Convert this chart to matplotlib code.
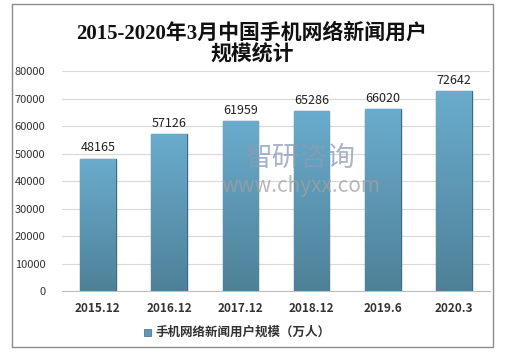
import numpy as np
import matplotlib
matplotlib.use("Agg")
from matplotlib import pyplot as plt
from matplotlib.patches import Rectangle

plt.rcParams['font.family'] = ['Noto Sans CJK SC', 'DejaVu Sans']

categories = ["2015.12", "2016.12", "2017.12", "2018.12", "2019.6", "2020.3"]
values = [48165, 57126, 61959, 65286, 66020, 72642]
title = "2015-2020年3月中国手机网络新闻用户\n规模统计"
legend_label = "手机网络新闻用户规模（万人）"

fig = plt.figure(figsize=(5.14, 3.55), dpi=100)
fig.patches.append(Rectangle((12 / 514, 8 / 355), 481 / 514, 343 / 355,
                             transform=fig.transFigure, fill=False,
                             edgecolor="#8c8c8c", linewidth=1.0))
ax = fig.add_axes([0.121, 0.180, 0.832, 0.620])

x = np.arange(len(categories))
width = 0.5
bars = ax.bar(x, values, width, color="#5a9ab8", edgecolor="#3e6b80",
              linewidth=1.0, zorder=3)

# vertical gradient inside each bar
grad = np.linspace(0, 1, 256).reshape(-1, 1)
cmap = matplotlib.colors.LinearSegmentedColormap.from_list(
    "bar", ["#4e8198", "#6aaccd"])
for b in bars:
    x0, y0 = b.get_x(), b.get_y()
    im = ax.imshow(grad, extent=[x0, x0 + b.get_width(), y0, y0 + b.get_height()],
                   origin="lower", cmap=cmap, aspect="auto", zorder=3.5)
    im.set_clip_path(b)

for xi, v in zip(x, values):
    ax.text(xi, v + 1500, str(v), ha="center", va="bottom", fontsize=9,
            color="#222222", zorder=5)

ax.set_xlim(-0.5, len(categories) - 0.5)
ax.set_ylim(0, 80000)
ax.set_yticks(np.arange(0, 80001, 10000))
ax.set_xticks(x)
ax.set_xticklabels(categories, fontsize=8.5, fontweight="bold", color="#333333")
for lab in ax.get_yticklabels():
    lab.set_fontsize(8)
    lab.set_color("#333333")
ax.tick_params(axis="both", length=0)
ax.tick_params(axis="y", pad=12)
ax.tick_params(axis="x", pad=8)
ax.grid(axis="y", color="#d9d9d9", linewidth=0.8, zorder=0)
for s in ["left", "right", "top"]:
    ax.spines[s].set_visible(False)
ax.spines["bottom"].set_color("#bfbfbf")

fig.text(0.49, 0.875, title, ha="center", va="center", fontsize=15,
         fontweight="bold", linespacing=1.15, color="#111111",
         family=["Liberation Serif", "Noto Sans CJK SC"])

# watermark
fig.text(0.585, 0.555, "智研咨询", ha="center", va="center", fontsize=20,
         color="#8a9bb8", alpha=0.75, zorder=10)
fig.text(0.585, 0.475, "www.chyxx.com", ha="center", va="center", fontsize=15,
         color="#a0a0a0", alpha=0.75, zorder=10)

fig.patches.append(Rectangle((144 / 514, 1 - 336 / 355), 7 / 514, 7 / 355,
                             transform=fig.transFigure, facecolor="#5a9ab8",
                             edgecolor="#3e6b80", linewidth=0.5))
fig.text(155 / 514, 1 - 332 / 355, legend_label, ha="left", va="center",
         fontsize=9, fontweight="bold", color="#333333")

fig.savefig("out.png", dpi=100)
